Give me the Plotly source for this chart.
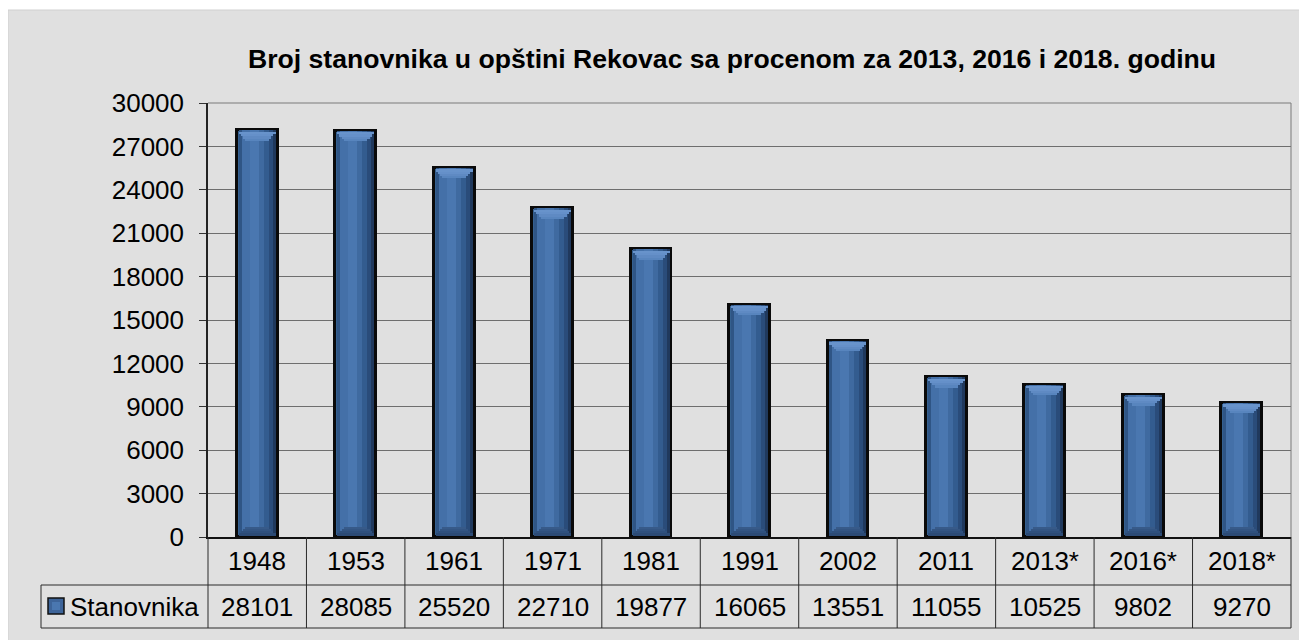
import plotly.graph_objects as go

title_text = "Broj stanovnika u opštini Rekovac sa procenom za 2013, 2016 i 2018. godinu"
categories = ["1948", "1953", "1961", "1971", "1981", "1991", "2002", "2011", "2013*", "2016*", "2018*"]
population = [28101, 28085, 25520, 22710, 19877, 16065, 13551, 11055, 10525, 9802, 9270]
series_name = "Stanovnika"
y_ticks = list(range(0, 30001, 3000))

FONT = "Liberation Sans, Arial, sans-serif"
OFF = 8  # page body margin
W, H = 1307 - OFF, 640 - OFF
ML, MR, MT, MB = 200, 16, 95, 103
PW = W - ML - MR
PH = H - MT - MB


def px_x(p):
    return (p - OFF - ML) / PW


def px_y(p):
    return (H - MB - (p - OFF)) / PH


unit_px = PH / 30000.0
cat_px = PW / len(categories)
n = len(categories)
idx = list(range(n))
gap = 1.5 / unit_px
bev_h = 9  # px height of bevel

fig = go.Figure()

# main bar with black outline
fig.add_trace(go.Bar(x=idx, y=population, width=0.415,
                     marker=dict(color="#35608f", line=dict(color="#0a0a0a", width=3)),
                     name=series_name, showlegend=False, hoverinfo="skip"))

# vertical shading bands (offset px from centre, width px, colour)
bands = [(-18.5, 3, "#2f5585"), (-15.5, 8, "#4470a8"), (-7.5, 9, "#4a77b0"),
         (1.5, 5, "#3f6aa0"), (6.5, 5, "#335c8f"), (11.5, 4, "#2a4c7a"), (15.5, 3, "#20395d")]
for off_px, w_px, col in bands:
    fig.add_trace(go.Bar(x=idx, y=[v - gap for v in population], base=[gap] * n,
                         width=w_px / cat_px, offset=off_px / cat_px,
                         marker=dict(color=col, line=dict(width=0)),
                         showlegend=False, hoverinfo="skip"))

# top bevel as stacked steps forming a trapezoid
steps = 4
for s in range(steps):
    w_px = 37 - s * 4.5
    h_px = bev_h / steps
    col = ["#6893cb", "#6590c9", "#5f8ac3", "#5885be"][s]
    fig.add_trace(go.Bar(x=idx, y=[h_px / unit_px] * n,
                         base=[v - gap - (s + 1) * h_px / unit_px for v in population],
                         width=w_px / cat_px,
                         marker=dict(color=col, line=dict(width=0)),
                         showlegend=False, hoverinfo="skip"))
# bottom bevel (inverted trapezoid)
for s in range(steps):
    w_px = 37 - s * 4.5
    h_px = bev_h / steps
    col = ["#2c4b76", "#2f507d", "#335583", "#375a89"][s]
    fig.add_trace(go.Bar(x=idx, y=[h_px / unit_px] * n,
                         base=[gap + s * h_px / unit_px] * n,
                         width=w_px / cat_px,
                         marker=dict(color=col, line=dict(width=0)),
                         showlegend=False, hoverinfo="skip"))

shapes = []
# grey panel
shapes.append(dict(type="rect", xref="paper", yref="paper",
                   x0=px_x(8), x1=px_x(1307 + 5), y0=px_y(640 + 5), y1=px_y(10),
                   fillcolor="#e0e0e0", line=dict(color="#d0d0d0", width=1), layer="below"))
# plot border top and right
shapes.append(dict(type="line", xref="paper", yref="paper", x0=0, x1=1, y0=1, y1=1,
                   line=dict(color="#7a7a7a", width=1), layer="above"))
shapes.append(dict(type="line", xref="paper", yref="paper", x0=1, x1=1, y0=0, y1=1,
                   line=dict(color="#7a7a7a", width=1), layer="above"))

row1_bottom = px_y(585)
row2_bottom = px_y(628)
legend_left = px_x(41)
line_col = "#2a2a2a"
for i in range(n + 1):
    fx = i / n
    shapes.append(dict(type="line", xref="x domain", yref="paper", x0=fx, x1=fx,
                       y0=0, y1=row2_bottom, line=dict(color=line_col, width=1)))
shapes.append(dict(type="line", xref="x domain", yref="paper", x0=legend_left, x1=legend_left,
                   y0=row1_bottom, y1=row2_bottom, line=dict(color=line_col, width=1)))
for yy in (row1_bottom, row2_bottom):
    shapes.append(dict(type="line", xref="x domain", yref="paper", x0=legend_left, x1=1,
                       y0=yy, y1=yy, line=dict(color=line_col, width=1)))
# legend key square
shapes.append(dict(type="rect", xref="x domain", yref="paper",
                   x0=px_x(48), x1=px_x(64), y0=px_y(614), y1=px_y(598),
                   fillcolor="#3d6499", line=dict(color="#111111", width=1.5)))
shapes.append(dict(type="rect", xref="x domain", yref="paper",
                   x0=px_x(52), x1=px_x(60), y0=px_y(610), y1=px_y(602),
                   fillcolor="#4a77b0", line=dict(width=0)))

annotations = []
row1_mid = px_y(561)
row2_mid = px_y(607)
for i, (c, v) in enumerate(zip(categories, population)):
    annotations.append(dict(x=i, xref="x", y=row1_mid, yref="paper", text=c, showarrow=False,
                            xanchor="center", yanchor="middle",
                            font=dict(family=FONT, size=26, color="#000000")))
    annotations.append(dict(x=i, xref="x", y=row2_mid, yref="paper", text=str(v), showarrow=False,
                            xanchor="center", yanchor="middle",
                            font=dict(family=FONT, size=26, color="#000000")))
annotations.append(dict(x=px_x(68), xref="paper", y=row2_mid, yref="paper", text=series_name,
                        showarrow=False, xanchor="left", yanchor="middle",
                        font=dict(family=FONT, size=26, color="#000000")))

fig.update_layout(
    width=W, height=H,
    margin=dict(l=ML, r=MR, t=MT, b=MB),
    paper_bgcolor="#ffffff",
    plot_bgcolor="rgba(0,0,0,0)",
    barmode="overlay",
    bargap=0,
    showlegend=False,
    title=dict(text=title_text, x=px_x(732), xref="paper", xanchor="center",
               y=1 - (59 - OFF) / H, yref="container", yanchor="middle",
               font=dict(family=FONT, size=26.6, color="#000000", weight="bold")),
    xaxis=dict(range=[-0.5, n - 0.5], showticklabels=False, ticks="",
               showgrid=False, showline=True, linecolor="#111111", linewidth=1.5,
               zeroline=False, fixedrange=True),
    yaxis=dict(range=[0, 30000], tickvals=y_ticks, ticktext=[str(t) for t in y_ticks],
               ticks="outside", ticklen=7, tickcolor="#333333", tickwidth=1,
               ticklabelstandoff=10,
               tickfont=dict(family=FONT, size=26, color="#000000"),
               showgrid=True, gridcolor="#6e6e6e", gridwidth=1,
               showline=True, linecolor="#222222", linewidth=1.5,
               zeroline=False, fixedrange=True),
    shapes=shapes,
    annotations=annotations,
)

fig.write_html("out.html", config=dict(displayModeBar=False))
